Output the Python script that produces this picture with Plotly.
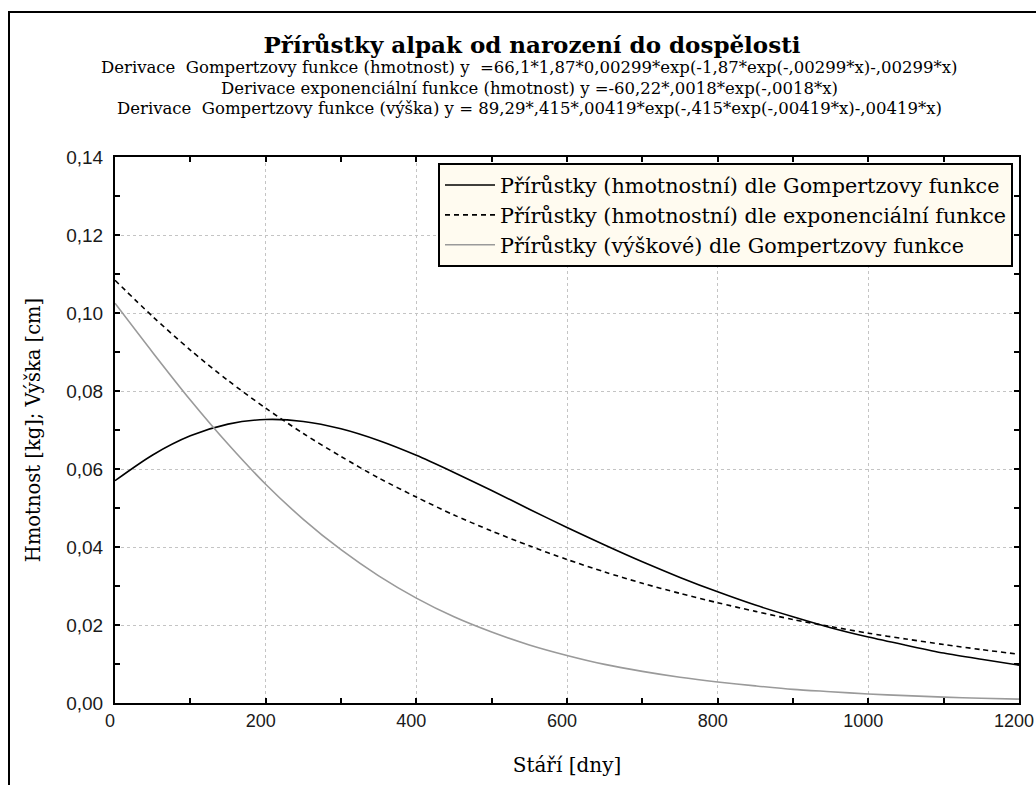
import plotly.graph_objects as go

# Age in days
days = [0, 50, 100, 150, 200, 250, 300, 350, 400, 450, 500, 550, 600,
        650, 700, 750, 800, 850, 900, 950, 1000, 1050, 1100, 1150, 1200]

# Daily gains
weight_gompertz = [0.0570, 0.0636, 0.0685, 0.0715, 0.0727, 0.0722, 0.0703, 0.0673,
                   0.0635, 0.0591, 0.0545, 0.0497, 0.0450, 0.0405, 0.0362, 0.0322,
                   0.0285, 0.0251, 0.0221, 0.0193, 0.0169, 0.0148, 0.0128, 0.0112, 0.0097]
weight_exponential = [0.1084, 0.0991, 0.0905, 0.0827, 0.0756, 0.0691, 0.0632, 0.0577,
                      0.0528, 0.0482, 0.0441, 0.0403, 0.0368, 0.0336, 0.0307, 0.0281,
                      0.0257, 0.0235, 0.0214, 0.0196, 0.0179, 0.0164, 0.0150, 0.0137, 0.0125]
height_gompertz = [0.1025, 0.0899, 0.0777, 0.0664, 0.0561, 0.0471, 0.0393, 0.0326,
                   0.0269, 0.0221, 0.0182, 0.0149, 0.0122, 0.0099, 0.0081, 0.0066,
                   0.0054, 0.0044, 0.0035, 0.0029, 0.0023, 0.0019, 0.0015, 0.0012, 0.0010]

series_names = [
    "Přírůstky (hmotnostní) dle Gompertzovy funkce",
    "Přírůstky (hmotnostní) dle exponenciální funkce",
    "Přírůstky (výškové) dle Gompertzovy funkce",
]

title_text = "Přírůstky alpak od narození do dospělosti"
equations = [
    "Derivace  Gompertzovy funkce (hmotnost) y  =66,1*1,87*0,00299*exp(-1,87*exp(-,00299*x)-,00299*x)",
    "Derivace exponenciální funkce (hmotnost) y =-60,22*,0018*exp(-,0018*x)",
    "Derivace  Gompertzovy funkce (výška) y = 89,29*,415*,00419*exp(-,415*exp(-,00419*x)-,00419*x)",
]
x_title = "Stáří [dny]"
y_title = "Hmotnost [kg]; Výška [cm]"

W, H = 1036, 785
ML, MR, MT, MB = 115, 17, 157, 82
pw, ph = W - ML - MR, H - MT - MB


def px_to_paper_x(px):
    return (px - ML) / pw


def px_to_paper_y(py):
    return (H - MB - py) / ph


fig = go.Figure()
styles = [
    dict(color="#000000", width=1.6),
    dict(color="#000000", width=1.6, dash="5px,4px"),
    dict(color="#9a9a9a", width=1.6),
]
for name, ys, st in zip(series_names, [weight_gompertz, weight_exponential, height_gompertz], styles):
    fig.add_trace(go.Scatter(x=days, y=ys, mode="lines", name=name,
                             line=dict(shape="spline", smoothing=0.8, **st),
                             legendgroup=name))

sans = "Liberation Sans, Arial, sans-serif"
serif_font = "DejaVu Serif, serif"

axis_common = dict(
    showline=True, linecolor="#000000", linewidth=2, mirror="allticks",
    ticks="inside", ticklen=5, tickwidth=1.5, tickcolor="#000000",
    showgrid=True, gridcolor="#c4c4c4", gridwidth=1, griddash="dot",
    zeroline=False, ticklabeloverflow="allow", automargin=False,
)

fig.update_xaxes(
    range=[0, 1200], tick0=0, dtick=200, tickformat="d",
    tickfont=dict(family=sans, size=18, color="#1a1a1a"), ticklabelshift=-5,
    minor=dict(dtick=100, ticks="inside", ticklen=5, tickwidth=1.5, tickcolor="#000000", showgrid=False),
    title=dict(text=x_title, font=dict(family=serif_font, size=20, color="#000"), standoff=28),
    **axis_common,
)
fig.update_yaxes(
    range=[0, 0.14], tick0=0, dtick=0.02, tickformat=".2f",
    tickfont=dict(family=sans, size=19, color="#1a1a1a"),
    minor=dict(dtick=0.01, ticks="inside", ticklen=5, tickwidth=1.5, tickcolor="#000000", showgrid=False),
    title=dict(text=y_title, font=dict(family=serif_font, size=19.5, color="#000"), standoff=20),
    ticklabelstandoff=6,
    **axis_common,
)

annotations = []
for i, line in enumerate(equations):
    annotations.append(dict(
        text=line, xref="paper", yref="paper",
        x=px_to_paper_x(529), y=px_to_paper_y(68 + 20 * i),
        xanchor="center", yanchor="middle", showarrow=False,
        font=dict(family="DejaVu Serif, serif", size=16.5, color="#000"),
    ))

fig.update_layout(
    width=W, height=H,
    margin=dict(l=ML, r=MR, t=MT, b=MB, pad=0),
    paper_bgcolor="#ffffff", plot_bgcolor="#ffffff",
    separators=", ",
    title=dict(text="<b>" + title_text + "</b>", xref="paper", yref="container",
               x=px_to_paper_x(532), xanchor="center", y=1 - 45 / H, yanchor="middle",
               font=dict(family=serif_font, size=23, color="#000")),
    annotations=annotations,
    legend=dict(
        x=px_to_paper_x(438), y=px_to_paper_y(163), xanchor="left", yanchor="top",
        bgcolor="#fffbf0", bordercolor="#000000", borderwidth=2,
        font=dict(family=serif_font, size=20.7, color="#000"),
        tracegroupgap=0, itemwidth=50,
    ),
    shapes=[dict(type="rect", xref="paper", yref="paper",
                 x0=px_to_paper_x(9), x1=px_to_paper_x(1100),
                 y0=px_to_paper_y(12), y1=px_to_paper_y(840),
                 line=dict(color="#000000", width=2), layer="below")],
    showlegend=True,
)

fig.write_html("out.html")
